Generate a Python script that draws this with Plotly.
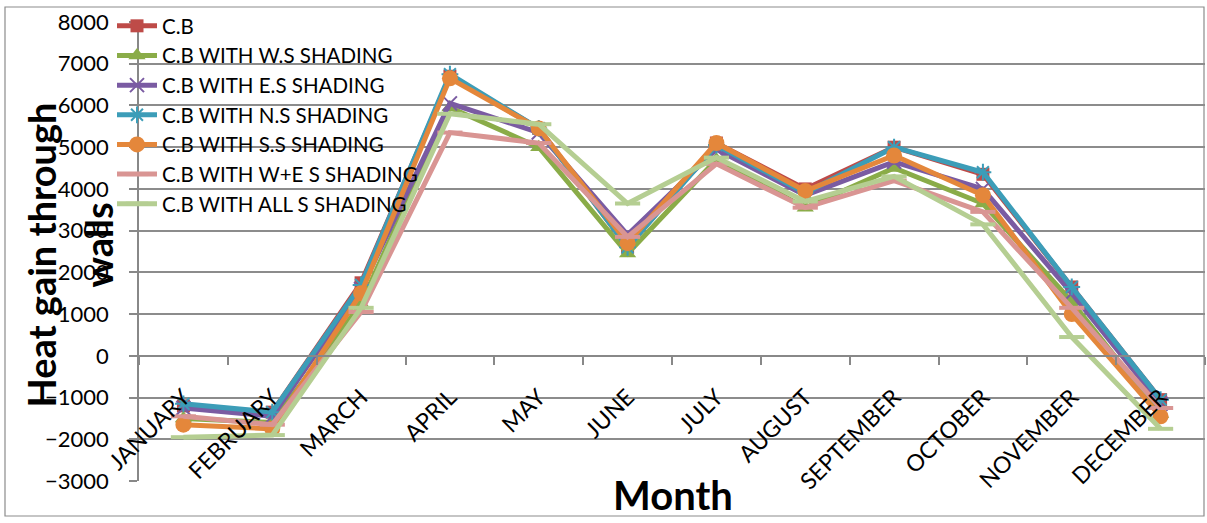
import plotly.graph_objects as go

# Monthly heat gain through walls for each shading configuration
months = ["JANUARY", "FEBRUARY", "MARCH", "APRIL", "MAY", "JUNE",
          "JULY", "AUGUST", "SEPTEMBER", "OCTOBER", "NOVEMBER", "DECEMBER"]

cb = [-1200, -1350, 1750, 6700, 5450, 2600, 5100, 4000, 5000, 4350, 1650, -1050]
cb_ws = [-1500, -1600, 1250, 5950, 5000, 2450, 4700, 3550, 4500, 3650, 1300, -1400]
cb_es = [-1250, -1450, 1600, 6050, 5350, 2900, 4950, 3850, 4650, 4000, 1500, -1150]
cb_ns = [-1150, -1350, 1700, 6750, 5450, 2600, 5050, 3900, 5000, 4400, 1650, -1050]
cb_ss = [-1650, -1750, 1500, 6650, 5450, 2700, 5100, 3950, 4800, 3850, 1000, -1450]
cb_we = [-1450, -1650, 1050, 5350, 5100, 2850, 4600, 3550, 4200, 3450, 1150, -1250]
cb_all = [-1950, -1900, 1150, 5800, 5550, 3650, 4750, 3700, 4300, 3150, 450, -1750]

y_ticks = [-3000, -2000, -1000, 0, 1000, 2000, 3000, 4000, 5000, 6000, 7000, 8000]

series = [
    ("C.B", cb, "#BE4B48", dict(symbol="square", size=13)),
    ("C.B WITH W.S SHADING", cb_ws, "#8AAC48", dict(symbol="triangle-up", size=15)),
    ("C.B WITH E.S SHADING", cb_es, "#7A5BA2", dict(symbol="x-thin-open", size=14, line=dict(width=2, color="#7A5BA2"))),
    ("C.B WITH N.S SHADING", cb_ns, "#3C9DB8", dict(symbol="asterisk-open", size=14, line=dict(width=2, color="#3C9DB8"))),
    ("C.B WITH S.S SHADING", cb_ss, "#E4873B", dict(symbol="circle", size=16)),
    ("C.B WITH W+E S SHADING", cb_we, "#D99593", dict(symbol="line-ew-open", size=18, line=dict(width=4, color="#D99593"))),
    ("C.B WITH ALL S SHADING", cb_all, "#B5CE92", dict(symbol="line-ew-open", size=18, line=dict(width=4, color="#B5CE92"))),
]

FONT = "Lato, 'Open Sans', sans-serif"

fig = go.Figure()
for i, (name, vals, color, marker) in enumerate(series):
    m = dict(color=color)
    m.update(marker)
    fig.add_trace(go.Scatter(
        x=months, y=vals, name=name, mode="lines+markers",
        line=dict(color=color, width=5), marker=m,
        legendgroup=f"g{i}",
    ))

W, H = 1207, 523
ml, mr, mt, mb = 139, 2, 22, 42
pw, ph = W - ml - mr, H - mt - mb
ymin, ymax = -3000, 8000
zero_frac = (0 - ymin) / (ymax - ymin)

fig.update_layout(
    width=W, height=H,
    margin=dict(l=ml, r=mr, t=mt, b=mb),
    paper_bgcolor="white", plot_bgcolor="white",
    font=dict(family=FONT, color="black"),
    showlegend=True,
    legend=dict(
        x=-27 / pw, y=1 + 16 / ph, xanchor="left", yanchor="top",
        bgcolor="rgba(0,0,0,0)", font=dict(size=20.5, family=FONT),
        tracegroupgap=0, itemwidth=40,
    ),
    xaxis=dict(
        type="category", anchor="free", position=zero_frac,
        showline=True, linecolor="#888888", linewidth=1.5,
        ticks="outside", ticklen=8, tickcolor="#888888", tickwidth=1.5,
        tickson="boundaries", tickangle=-45,
        tickfont=dict(size=23, family=FONT), ticklabelstandoff=18,
        showgrid=False, zeroline=False,
        range=[-0.5, 11.5],
    ),
    yaxis=dict(
        range=[ymin, ymax], tickvals=y_ticks,
        showline=True, linecolor="#888888", linewidth=1.5,
        ticks="outside", ticklen=8, tickcolor="#888888", tickwidth=1.5,
        showgrid=True, gridcolor="#8C8C8C", gridwidth=1.5,
        zeroline=False, tickfont=dict(size=22, family=FONT),
        ticklabelstandoff=16,
    ),
    shapes=[dict(
        type="rect", xref="paper", yref="paper",
        x0=(5 - ml) / pw, x1=(1204 - ml) / pw,
        y0=1 - (516 - mt) / ph, y1=1 + (mt - 7) / ph,
        line=dict(color="#8C8C8C", width=1.2), fillcolor="rgba(0,0,0,0)",
        layer="below",
    )],
    annotations=[
        dict(text="<b>Heat gain through</b>", xref="paper", yref="paper",
             x=(40 - ml) / pw, y=0.5 - 4 / ph, textangle=-90, showarrow=False,
             font=dict(size=38, family=FONT, color="black"),
             xanchor="center", yanchor="middle"),
        dict(text="<b>walls</b>", xref="paper", yref="paper",
             x=(97 - ml) / pw, y=0.5 + 6 / ph, textangle=-90, showarrow=False,
             font=dict(size=38, family=FONT, color="black"),
             xanchor="center", yanchor="middle"),
        dict(text="<b>Month</b>", xref="paper", yref="paper",
             x=(673 - ml) / pw, y=-(495 - (H - mb)) / ph, showarrow=False,
             font=dict(size=40, family=FONT, color="black"),
             xanchor="center", yanchor="middle"),
    ],
)

fig.write_html("out.html")
